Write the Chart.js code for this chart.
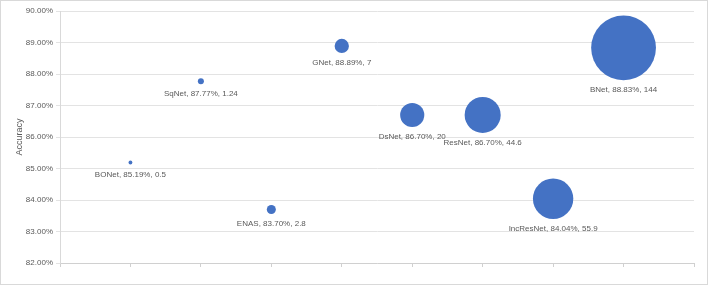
<!DOCTYPE html>
<html>
<head>
<meta charset="utf-8">
<script src="https://cdn.jsdelivr.net/npm/chart.js@4"></script>
<style>
  html, body { margin: 0; padding: 0; background: #fff; }
  #wrap { width: 706px; height: 283px; border: 1px solid #d9d9d9; position: relative; }
</style>
</head>
<body>
<div id="wrap"><canvas id="chart" width="706" height="283"></canvas></div>
<script>
// Models, position on the x axis, accuracy (%) and bubble size (params)
const models = ["BONet", "SqNet", "ENAS", "GNet", "DsNet", "ResNet", "IncResNet", "BNet"];
const positions = [1, 2, 3, 4, 5, 6, 7, 8];
const accuracy = [85.19, 87.77, 83.70, 88.89, 86.70, 86.70, 84.04, 88.83];
const sizes = [0.5, 1.24, 2.8, 7, 20, 44.6, 55.9, 144];

const textColor = "#595959";
const font = "'Liberation Sans', Arial, sans-serif";

// Excel scales bubble area by size
const points = models.map((m, i) => ({
  x: positions[i],
  y: accuracy[i],
  r: 2.7 * Math.sqrt(sizes[i])
}));

// Draw "name, acc%, size" under each bubble
const bubbleLabels = {
  id: "bubbleLabels",
  afterDatasetsDraw(chart) {
    const ctx = chart.ctx;
    const meta = chart.getDatasetMeta(0);
    ctx.save();
    ctx.font = "8px " + font;
    ctx.fillStyle = textColor;
    ctx.textAlign = "center";
    ctx.textBaseline = "middle";
    meta.data.forEach((el, i) => {
      const r = el.options.radius;
      const text = `${models[i]}, ${accuracy[i].toFixed(2)}%, ${sizes[i]}`;
      ctx.fillText(text, el.x, el.y + r + 10);
    });
    ctx.restore();
  }
};

new Chart(document.getElementById("chart").getContext("2d"), {
  type: "bubble",
  data: {
    datasets: [{
      data: points,
      backgroundColor: "#4472C4",
      borderColor: "#4472C4",
      borderWidth: 0,
      hoverRadius: 0,
      clip: false
    }]
  },
  options: {
    responsive: false,
    animation: false,
    layout: { autoPadding: false, padding: { top: 10, right: 13, bottom: 17, left: 9 } },
    plugins: {
      legend: { display: false },
      tooltip: { enabled: false }
    },
    scales: {
      x: {
        type: "linear",
        min: 0,
        max: 9,
        ticks: { stepSize: 1, display: false },
        grid: { drawOnChartArea: false, drawTicks: true, tickLength: 4, color: "#d0d0d0" },
        border: { color: "#d0d0d0" }
      },
      y: {
        min: 82,
        max: 90,
        ticks: {
          stepSize: 1,
          color: textColor,
          font: { size: 8, family: font },
          callback: (v) => v.toFixed(2) + "%"
        },
        title: {
          display: true,
          text: "Accuracy",
          color: textColor,
          font: { size: 9, family: font }
        },
        grid: { color: "#e3e3e3", tickLength: 4 },
        border: { color: "#d9d9d9" },
        afterFit: (scale) => { scale.width = 50; }
      }
    }
  },
  plugins: [bubbleLabels]
});
</script>
</body>
</html>
